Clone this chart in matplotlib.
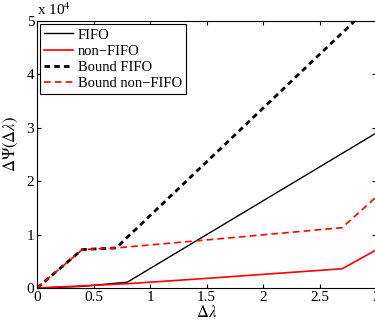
import numpy as np
import matplotlib
matplotlib.use('Agg')
import matplotlib.pyplot as plt

plt.rcParams['font.family'] = ['Liberation Serif', 'DejaVu Serif']
plt.rcParams['mathtext.fontset'] = 'stix'

fifo_x = [0, 0.4, 0.8, 3.0]
fifo_y = [0, 300, 1100, 29000]

nonfifo_x = [0, 0.8, 1.5, 2.7, 3.0]
nonfifo_y = [0, 800, 1800, 3600, 7100]

bound_fifo_x = [0, 0.4, 0.7, 3.0]
bound_fifo_y = [0, 7200, 7500, 53800]

bound_nonfifo_x = [0, 0.4, 0.7, 1.5, 2.7, 3.0]
bound_nonfifo_y = [0, 7200, 7500, 9000, 11300, 17000]

labels = ['FIFO', 'non\u2212FIFO', 'Bound FIFO', 'Bound non\u2212FIFO']

fig = plt.figure(figsize=(3.75, 3.24), dpi=100)
ax = fig.add_axes([37/375, 36/324, 339/375, 267/324])

ax.plot(fifo_x, fifo_y, 'k-', lw=1.0, label=labels[0])
ax.plot(nonfifo_x, nonfifo_y, 'r-', lw=1.2, label=labels[1])
ax.plot(bound_fifo_x, bound_fifo_y, 'k--', lw=2.0, dashes=(2, 1.5), label=labels[2])
ax.plot(bound_nonfifo_x, bound_nonfifo_y, 'r--', lw=1.2, dashes=(4, 2.5), label=labels[3])

ax.set_xlim(0, 3)
ax.set_ylim(0, 50000)
ax.set_xticks([0, 0.5, 1, 1.5, 2, 2.5, 3])
ax.set_xticklabels(['0', '0.5', '1', '1.5', '2', '2.5', '3'])
ax.set_yticks([0, 10000, 20000, 30000, 40000, 50000])
ax.set_yticklabels(['0', '1', '2', '3', '4', '5'])
ax.tick_params(direction='in', top=True, right=True, labelsize=11, length=3, pad=2)

ax.set_xlabel(r'$\Delta\lambda$', fontsize=12, labelpad=1)
ax.set_ylabel(r'$\Delta\Psi(\Delta\lambda)$', fontsize=12)
ax.yaxis.set_label_coords(-0.05, 0.54)
ax.text(0.0, 1.01, r'x 10$^4$', transform=ax.transAxes, fontsize=11, ha='left', va='bottom')

leg = ax.legend(loc='upper left', fontsize=10.5, frameon=True, fancybox=False,
                framealpha=1, edgecolor='k', handlelength=2.0, borderaxespad=0.2,
                borderpad=0.3, labelspacing=0.2, handletextpad=0.3)
leg.get_frame().set_linewidth(0.8)

fig.savefig('out.png', dpi=100)
